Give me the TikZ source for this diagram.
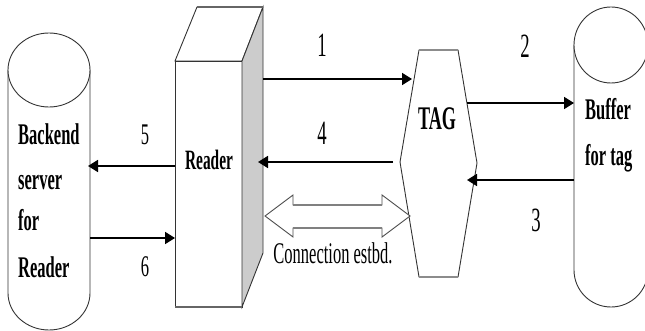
\documentclass[tikz,border=0pt]{standalone}
\usepackage{fontspec}
\setmainfont{Liberation Serif}
\newfontfamily\nf[FakeStretch=0.55]{Liberation Serif}
\usetikzlibrary{arrows.meta}
\tikzset{
  conn/.style={line width=1.8pt, -{Triangle[length=10pt,width=12pt]}},
  outl/.style={draw=black!80, line width=0.9pt},
  lbl/.style={font=\nf\bfseries\fontsize{30}{36}\selectfont, inner sep=0pt},
  num/.style={font=\nf\fontsize{34}{36}\selectfont, inner sep=0pt},
  numsm/.style={font=\nf\fontsize{30}{36}\selectfont, inner sep=0pt},
  edge/.style={draw=black!45, line width=2.5pt},
}
\begin{document}
\begin{tikzpicture}[x=1pt,y=-1pt]
\useasboundingbox (0,0) rectangle (645,331);
% left cylinder (backend server)
\path[outl, fill=white] (8,70) -- (8,293) arc[start angle=180, end angle=360, x radius=41pt, y radius=37pt] -- (90,70) -- cycle;
\draw[outl, fill=white] (49,70) ellipse [x radius=41pt, y radius=37pt];
% right cylinder (buffer)
\path[outl, fill=white] (574,45) -- (574,270) arc[start angle=180, end angle=360, x radius=37pt, y radius=37pt] -- (648,45) -- cycle;
\draw[outl, fill=white] (611,45) ellipse [x radius=37pt, y radius=38pt];
% reader box
\draw[outl, fill=white] (175,61) rectangle (242,307);
\draw[outl, fill=white] (175,61) -- (197,7) -- (263,7) -- (242,61) -- cycle;
\draw[outl, fill=black!20] (242,61) -- (263,7) -- (263,253) -- (242,307) -- cycle;
\draw[black!60, line width=1.6pt] (197,7) -- (263,7);
\draw[black!60, line width=1.6pt] (175,307) -- (242,307);
% tag hexagon
\draw[outl, fill=white] (419,50) -- (458,50) -- (477,163) -- (458,277) -- (419,277) -- (400,162) -- cycle;
\draw[edge] (419,50) -- (458,50);
\draw[edge] (419,277) -- (458,277);
% double arrow (connection)
\draw[draw=black!70, line width=0.9pt, fill=white] (265,216) -- (293,195) -- (293,205) -- (382,205) -- (382,195) -- (410,216) -- (382,237) -- (382,228) -- (293,228) -- (293,237) -- cycle;
\draw[black!50, line width=1.8pt] (293,205) -- (382,205);
\draw[black!50, line width=1.8pt] (293,228) -- (382,228);
% labels
\node[lbl, anchor=base west] (b1) at (18,145) {Backend};
\node[lbl, anchor=base west] (b2) at (18,190) {server};
\node[lbl, anchor=base west] (b3) at (18,230) {for};
\node[lbl, anchor=base west] (b4) at (18,277) {Reader};
\node[lbl, anchor=base, font=\nf\bfseries\fontsize{28}{30}\selectfont] (rd) at (209,170) {Reader};
\node[lbl, anchor=base, font=\nf\bfseries\fontsize{33}{36}\selectfont] (tag) at (437,130) {TAG};
\node[lbl, anchor=base west] (bf1) at (585,120) {Buffer};
\node[lbl, anchor=base west] (bf2) at (585,166) {for tag};
\node[numsm, anchor=base] (cn) at (333,263) {Connection estbd.};
\node[num] (n1) at (322,45) {1};
\node[num] (n2) at (525,46) {2};
\node[num] (n3) at (536,220) {3};
\node[num] (n4) at (322,133) {4};
\node[numsm] (n5) at (145,135) {5};
\node[numsm] (n6) at (145,267) {6};
% connector end points
\coordinate (r1) at (263,79);
\coordinate (t1) at (412,79);
\coordinate (t2) at (467,103);
\coordinate (bu2) at (574,103);
\coordinate (bu3) at (574,180);
\coordinate (t3) at (467,180);
\coordinate (t4) at (393,162);
\coordinate (r4) at (258,162);
\coordinate (rl5) at (175,166);
\coordinate (s5) at (88,166);
\coordinate (s6) at (90,238);
\coordinate (rl6) at (175,238);
% connectors
\draw[conn] (r1) -- (t1);
\draw[conn] (t2) -- (bu2);
\draw[conn] (bu3) -- (t3);
\draw[conn] (t4) -- (r4);
\draw[conn] (rl5) -- (s5);
\draw[conn] (s6) -- (rl6);
\end{tikzpicture}
\end{document}
